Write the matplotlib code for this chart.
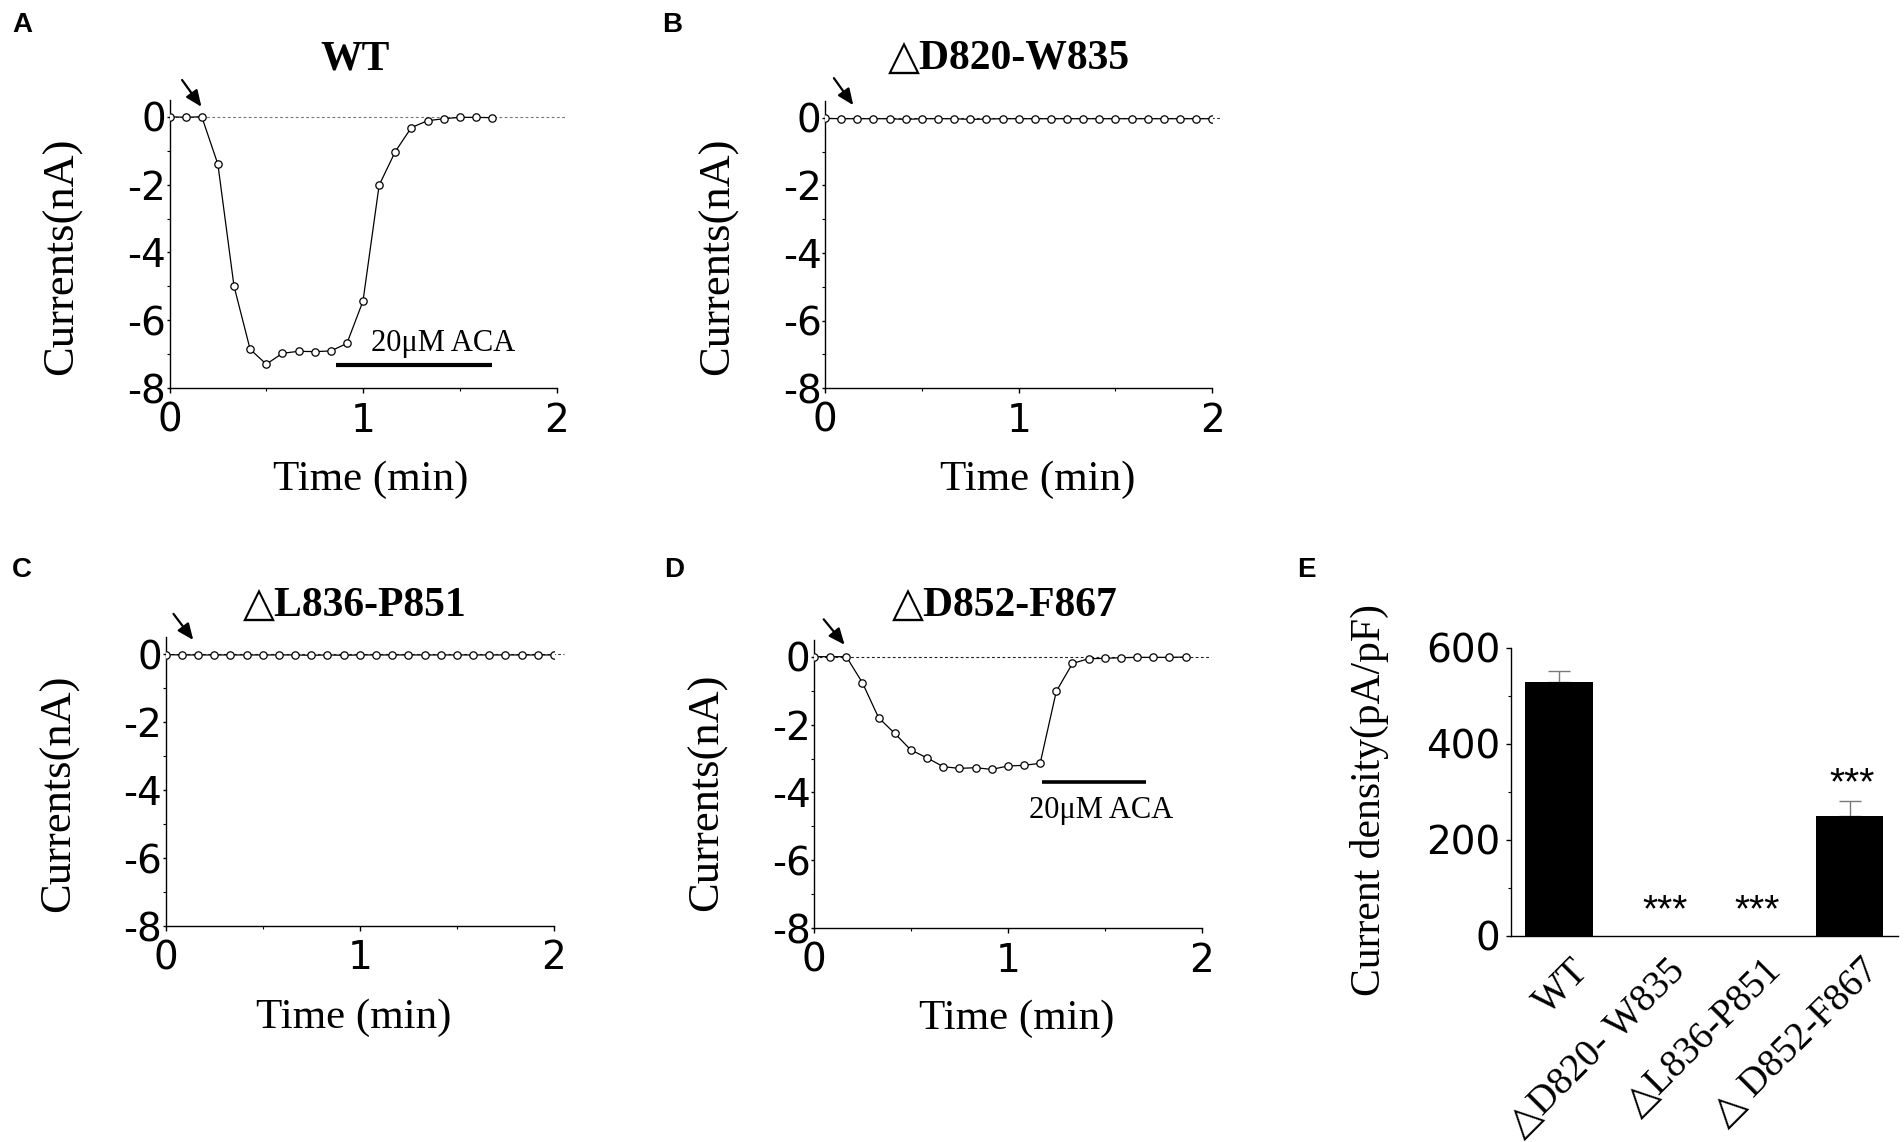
import matplotlib
matplotlib.use("Agg")
import matplotlib.pyplot as plt
from matplotlib.transforms import ScaledTranslation
from matplotlib.ticker import FixedLocator

plt.rcParams['axes.unicode_minus'] = False

# ---------------- data ----------------
time_A_s = [0, 5, 10, 15, 20, 25, 30, 35, 40, 45, 50, 55, 60, 65, 70, 75, 80, 85, 90, 95, 100]
current_A = [0.0, -0.02, 0.0, -1.40, -4.99, -6.85, -7.29, -6.97, -6.91, -6.92, -6.90,
             -6.68, -5.43, -2.02, -1.03, -0.32, -0.12, -0.06, -0.02, -0.02, -0.03]

time_B_s = [0, 5, 10, 15, 20, 25, 30, 35, 40, 45, 50, 55, 60, 65, 70, 75, 80, 85, 90, 95,
            100, 105, 110, 115, 120]
current_B = [-0.02, -0.03, -0.03, -0.03, -0.03, -0.05, -0.03, -0.03, -0.03, -0.05, -0.04,
             -0.03, -0.03, -0.03, -0.03, -0.03, -0.03, -0.03, -0.03, -0.03, -0.03, -0.03,
             -0.03, -0.03, -0.03]

time_C_s = [0, 5, 10, 15, 20, 25, 30, 35, 40, 45, 50, 55, 60, 65, 70, 75, 80, 85, 90, 95,
            100, 105, 110, 115, 120]
current_C = [-0.01, -0.02, -0.02, -0.02, -0.02, -0.02, -0.02, -0.02, -0.02, -0.03, -0.02,
             -0.03, -0.02, -0.02, -0.02, -0.02, -0.02, -0.02, -0.02, -0.02, -0.02, -0.02,
             -0.02, -0.02, -0.02]

time_D_s = [0, 5, 10, 15, 20, 25, 30, 35, 40, 45, 50, 55, 60, 65, 70, 75, 80, 85, 90, 95,
            100, 105, 110, 115]
current_D = [0.0, 0.0, 0.0, -0.77, -1.80, -2.26, -2.75, -2.98, -3.24, -3.29, -3.27, -3.32,
             -3.22, -3.20, -3.14, -1.02, -0.20, -0.06, -0.05, -0.03, -0.02, -0.02, -0.02, -0.01]

titles = ["WT", "△D820-W835", "△L836-P851", "△D852-F867"]
panel_letters = ["A", "B", "C", "D", "E"]

# ACA application bars: (start, end, level) in data units, and label position
aca_A = (0.860, 1.668, -7.32)
aca_A_label = (1.412, -6.67)
aca_D = (1.174, 1.711, -3.70)
aca_D_label = (1.479, -4.54)

# stimulation arrows (start, tip) in data units
arrows = {
    "A": ((0.065, 1.08), (0.165, 0.29)),
    "B": ((0.046, 1.17), (0.146, 0.37)),
    "C": ((0.040, 1.19), (0.142, 0.42)),
    "D": ((0.050, 1.10), (0.158, 0.35)),
}

groups_E = ["WT", "△D820- W835", "△L836-P851", "△ D852-F867"]
density_E = [529, 0, 0, 249]
sem_E = [23, 0, 0, 31]
star_x_E = [1.10, 2.05, 3.03]
star_y_E = [29, 29, 294]

# ---------------- figure ----------------
W, H = 1904, 1142
fig = plt.figure(figsize=(W / 100, H / 100), dpi=100)

SERIF = ['Liberation Serif', 'DejaVu Sans']
SANS = ['Liberation Sans', 'DejaVu Sans']
TICKFONT = ['DejaVu Sans']


def add_axes_px(left, right, top, bottom):
    return fig.add_axes([left / W, 1 - bottom / H, (right - left) / W, (bottom - top) / H])


def style_trace_axes(ax):
    ax.set_xlim(0, 2)
    ax.set_ylim(-8, 0.5)
    for s in ("top", "right"):
        ax.spines[s].set_visible(False)
    for s in ("left", "bottom"):
        ax.spines[s].set_linewidth(1.0)
    ax.set_xticks([0, 1, 2])
    ax.set_xticklabels(["0", "1", "2"])
    ax.set_yticks([0, -2, -4, -6, -8])
    ax.set_yticklabels(["0", "-2", "-4", "-6", "-8"])
    ax.xaxis.set_minor_locator(FixedLocator([0.5, 1.5]))
    ax.yaxis.set_minor_locator(FixedLocator([-1, -3, -5, -7]))
    ax.tick_params(axis='x', which='major', direction='out', length=3.6, width=1.0, pad=6)
    ax.tick_params(axis='y', which='major', direction='out', length=2.0, width=1.0, pad=0.5)
    ax.tick_params(which='minor', direction='out', length=2.0, width=0.8)
    for lab in ax.get_xticklabels() + ax.get_yticklabels():
        lab.set_fontfamily(TICKFONT)
        lab.set_fontsize(28)


axes_px = {
    "A": (169.5, 556.5, 99.7, 388.3),
    "B": (825.0, 1212.3, 100.8, 388.3),
    "C": (165.7, 554.0, 637.3, 926.0),
    "D": (814.0, 1201.7, 639.7, 928.3),
}
data = {
    "A": (time_A_s, current_A),
    "B": (time_B_s, current_B),
    "C": (time_C_s, current_C),
    "D": (time_D_s, current_D),
}
title_pos = {"A": (355, 69), "B": (1009, 69), "C": (355, 616), "D": (1005, 616)}
xlabel_pos = {"A": (371, 490), "B": (1038, 490), "C": (354, 1028), "D": (1017, 1029)}
ylabel_pos = {"A": (62, 256), "B": (718, 256), "C": (59, 793), "D": (707, 792)}
letter_pos = {"A": (12, 25), "B": (662, 25), "C": (12, 570), "D": (664, 570), "E": (1297, 570)}
zero_color = {"A": "#777777", "B": "#333333", "C": "#333333", "D": "#222222"}

for i, key in enumerate(["A", "B", "C", "D"]):
    ax = add_axes_px(*axes_px[key])
    t_s, cur = data[key]
    t_min = [t / 60 for t in t_s]
    ax.plot([0, 2.05], [0, 0], linestyle=(0, (2.5, 2.2)), color=zero_color[key],
            lw=0.8, clip_on=False, zorder=1)
    ax.plot(t_min, cur, '-', color='k', lw=0.9, marker='o', markersize=5.3,
            markerfacecolor='white', markeredgecolor='k', markeredgewidth=0.9, zorder=3)
    style_trace_axes(ax)
    (sx, sy), (tx, ty) = arrows[key]
    ax.annotate("", xy=(tx, ty), xytext=(sx, sy), annotation_clip=False,
                arrowprops=dict(arrowstyle='-|>,head_length=0.75,head_width=0.32',
                                mutation_scale=13, lw=1.6, color='k',
                                shrinkA=0, shrinkB=0))
    fig.text(title_pos[key][0] / W, 1 - title_pos[key][1] / H, titles[i],
             ha='center', va='baseline', fontsize=30, fontweight='bold', family=SERIF)
    fig.text(xlabel_pos[key][0] / W, 1 - xlabel_pos[key][1] / H, "Time (min)",
             ha='center', va='baseline', fontsize=31, family=SERIF)
    fig.text(ylabel_pos[key][0] / W, 1 - ylabel_pos[key][1] / H, "Currents(nA)",
             ha='center', va='center', rotation=90, fontsize=32, family=SERIF)
    if key == "A":
        ax.plot([aca_A[0], aca_A[1]], [aca_A[2], aca_A[2]], color='k', lw=3.0,
                solid_capstyle='butt')
        ax.text(aca_A_label[0], aca_A_label[1], "20μM ACA", ha='center', va='center',
                fontsize=22, family=SERIF)
    if key == "D":
        ax.plot([aca_D[0], aca_D[1]], [aca_D[2], aca_D[2]], color='k', lw=2.6,
                solid_capstyle='butt')
        ax.text(aca_D_label[0], aca_D_label[1], "20μM ACA", ha='center', va='center',
                fontsize=22, family=SERIF)

# ---------------- panel E ----------------
axE = add_axes_px(1510.5, 1898.0, 647.7, 935.5)
xpos = list(range(len(groups_E)))
axE.bar(xpos, density_E, width=0.7, color='k', zorder=2)
err_x = [x for x, e in zip(xpos, sem_E) if e > 0]
err_y = [d for d, e in zip(density_E, sem_E) if e > 0]
err_v = [e for e in sem_E if e > 0]
axE.errorbar(err_x, err_y, yerr=[[0] * len(err_v), err_v], fmt='none', ecolor='#7a7a7a',
             elinewidth=1.0, capsize=7.8, capthick=1.0, zorder=1)
axE.set_xlim(-0.5, 3.5)
axE.set_ylim(0, 600)
for s in ("top", "right"):
    axE.spines[s].set_visible(False)
for s in ("left", "bottom"):
    axE.spines[s].set_linewidth(1.0)
axE.set_yticks([0, 200, 400, 600])
axE.set_yticklabels(["0", "200", "400", "600"])
axE.yaxis.set_minor_locator(FixedLocator([100, 300, 500]))
axE.tick_params(axis='y', which='major', direction='out', length=3.4, width=1.0, pad=4.0)
axE.tick_params(axis='y', which='minor', direction='out', length=2.5, width=0.8)
for lab in axE.get_yticklabels():
    lab.set_fontfamily(TICKFONT)
    lab.set_fontsize(28)
axE.set_xticks(xpos)
axE.set_xticklabels(groups_E, rotation=45, ha='right', va='center', rotation_mode='anchor')
axE.tick_params(axis='x', length=0, pad=21.5)
offset = ScaledTranslation(24 / 100, 0, fig.dpi_scale_trans)
for lab in axE.get_xticklabels():
    lab.set_fontfamily(SERIF)
    lab.set_fontsize(28)
    lab.set_transform(lab.get_transform() + offset)
for sx, sy in zip(star_x_E, star_y_E):
    axE.text(sx, sy, "***", ha='center', va='baseline', fontsize=28, family=SANS)
fig.text(1369 / W, 1 - 800 / H, "Current density(pA/pF)", ha='center', va='center',
         rotation=90, fontsize=30, family=SERIF)

for k, (lx, ly) in letter_pos.items():
    fig.text(lx / W, 1 - ly / H, k, ha='left', va='center', fontsize=20,
             fontweight='bold', family=SANS)

fig.savefig("out.png", dpi=100)
